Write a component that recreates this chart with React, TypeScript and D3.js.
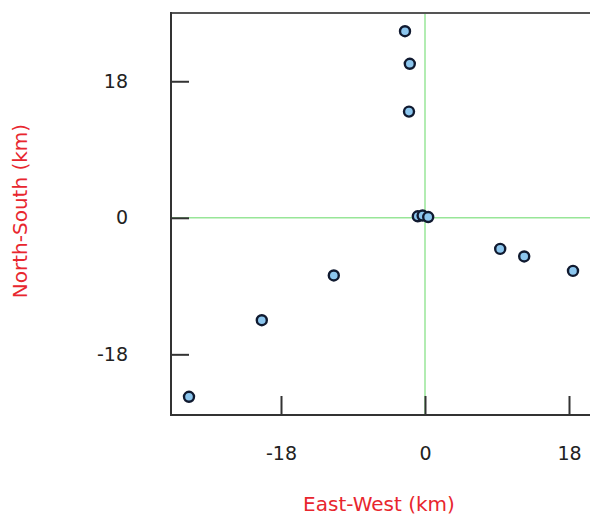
import { useEffect, useRef } from 'react';
import * as d3 from 'd3';

// East-West / North-South positions (km)
const eastWest = [-2.5, -1.9, -2.0, -0.9, -0.3, 0.4, 9.4, 12.4, 18.5, -11.4, -20.4, -29.5];
const northSouth = [24.6, 20.3, 14.0, 0.2, 0.3, 0.1, -4.1, -5.1, -7.0, -7.6, -13.5, -23.6];
const xTicks = [-18, 0, 18];
const yTicks = [-18, 0, 18];

const W = 590;
const H = 515;

const App = () => {
  const svgRef = useRef<SVGSVGElement | null>(null);

  useEffect(() => {
    const svg = d3.select(svgRef.current);
    svg.selectAll('*').remove();

    const left = 171;
    const top = 13;
    const bottom = 415;

    const x = d3.scaleLinear().domain([-31.75, 31.75]).range([left, left + 508]);
    const y = d3.scaleLinear().domain([-26, 27]).range([bottom, top]);

    const font = 'DejaVu Sans, sans-serif';
    const fmt = (d: any) => String(d);

    // reference lines at zero
    svg.append('line')
      .attr('x1', x(0)).attr('x2', x(0))
      .attr('y1', top).attr('y2', bottom)
      .attr('stroke', '#98e698').attr('stroke-width', 1.5);
    svg.append('line')
      .attr('x1', left).attr('x2', W)
      .attr('y1', y(0)).attr('y2', y(0))
      .attr('stroke', '#98e698').attr('stroke-width', 1.5);

    // top frame line
    svg.append('line')
      .attr('x1', left).attr('x2', W)
      .attr('y1', top).attr('y2', top)
      .attr('stroke', '#555').attr('stroke-width', 2);

    // Y axis
    const gy = svg.append('g')
      .attr('transform', `translate(${left},0)`)
      .call(d3.axisLeft(y).tickValues(yTicks).tickSizeInner(-18).tickSizeOuter(0).tickPadding(43).tickFormat(fmt));
    gy.select('.domain').remove();
    svg.append('line')
      .attr('x1', left).attr('x2', left)
      .attr('y1', top - 1).attr('y2', bottom + 1)
      .attr('stroke', '#333').attr('stroke-width', 2);

    // X axis
    const gx = svg.append('g')
      .attr('transform', `translate(0,${bottom})`)
      .call(d3.axisBottom(x).tickValues(xTicks).tickSizeInner(-19).tickSizeOuter(0).tickPadding(32).tickFormat(fmt));
    gx.select('.domain').remove();
    svg.append('line')
      .attr('x1', left - 1).attr('x2', W)
      .attr('y1', bottom).attr('y2', bottom)
      .attr('stroke', '#333').attr('stroke-width', 2);

    svg.selectAll('.tick line').attr('stroke', '#333').attr('stroke-width', 2);
    svg.selectAll('.tick text')
      .style('font-family', font)
      .style('font-size', '19px')
      .attr('fill', '#222');

    // points
    svg.append('g')
      .selectAll('circle')
      .data(eastWest.map((d, i) => ({ ew: d, ns: northSouth[i] })))
      .enter()
      .append('circle')
      .attr('cx', d => x(d.ew))
      .attr('cy', d => y(d.ns))
      .attr('r', 5)
      .attr('fill', '#8cc6ee')
      .attr('stroke', '#101a30')
      .attr('stroke-width', 2.4);

    // axis titles
    svg.append('text')
      .attr('x', 379).attr('y', 511)
      .attr('text-anchor', 'middle')
      .style('font-family', font)
      .style('font-size', '20px')
      .attr('fill', '#e8262e')
      .text('East-West (km)');

    svg.append('text')
      .attr('transform', `translate(27,211) rotate(-90)`)
      .attr('text-anchor', 'middle')
      .style('font-family', font)
      .style('font-size', '20px')
      .attr('fill', '#e8262e')
      .text('North-South (km)');
  }, []);

  return (
    <svg
      ref={svgRef}
      width={W}
      height={H}
      style={{ position: 'absolute', left: 0, top: 0, background: '#fff' }}
    />
  );
};

export default App;
